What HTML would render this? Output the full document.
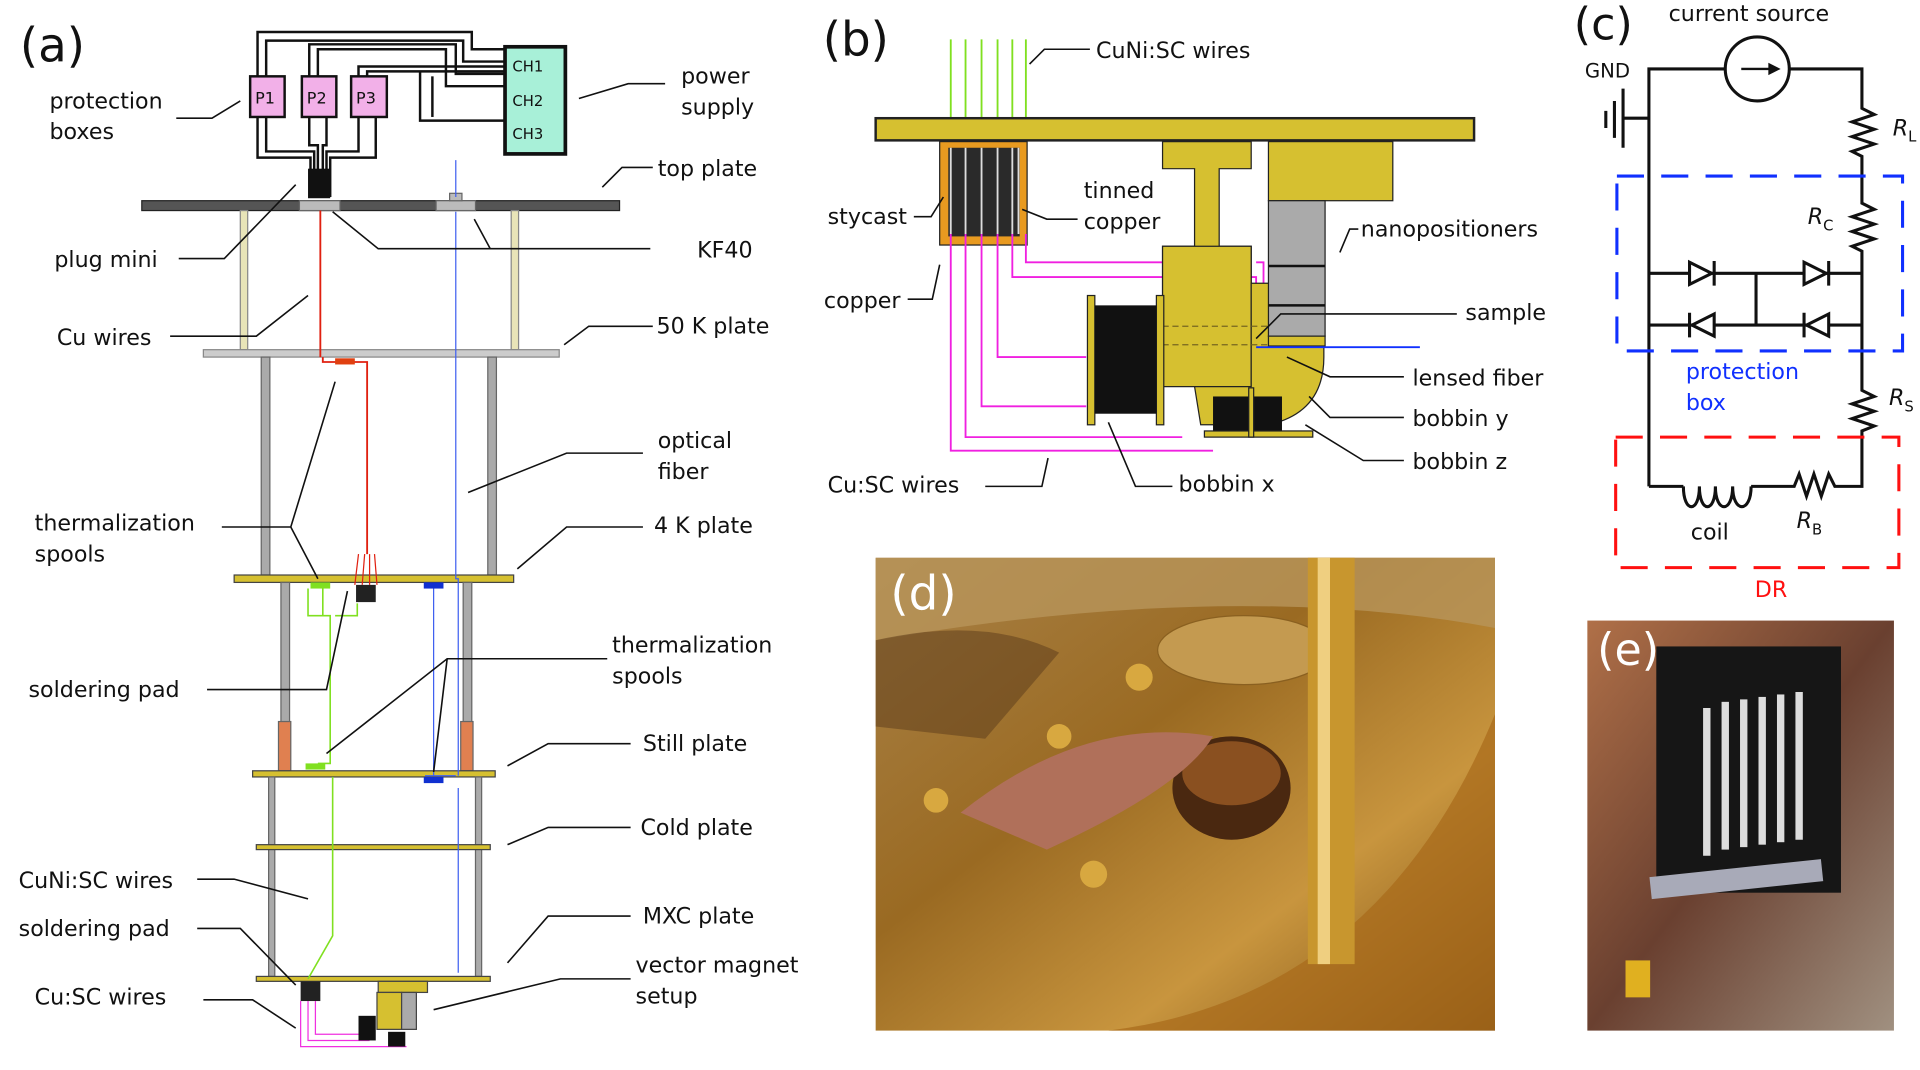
<!DOCTYPE html>
<html><head><meta charset="utf-8"><style>
html,body{margin:0;padding:0;background:#fff;}
svg{display:block;}
text{font-family:"DejaVu Sans","Liberation Sans",sans-serif;fill:#111;}
</style></head><body>
<svg width="1920" height="1070" viewBox="0 0 1559 869" xmlns="http://www.w3.org/2000/svg">
<defs>
<linearGradient id="gd" x1="0" y1="0" x2="1" y2="1">
<stop offset="0" stop-color="#a98248"/><stop offset="0.4" stop-color="#9a6a22"/><stop offset="0.7" stop-color="#c8953e"/><stop offset="1" stop-color="#7a4d14"/></linearGradient>
<linearGradient id="ge" x1="0" y1="0" x2="1" y2="1">
<stop offset="0" stop-color="#b07048"/><stop offset="0.5" stop-color="#6a4030"/><stop offset="1" stop-color="#a09080"/></linearGradient>
</defs>
<!-- ===== (a) ===== -->
<text x="16" y="50" font-size="38">(a)</text>
<g fill="none" stroke="#111" stroke-width="2">
<path d="M209 62 V26 H383 V40 H410"/><path d="M216 62 V33 H376 V50 H410"/>
<path d="M251 62 V36 H370 V60 H410"/><path d="M258 62 V40 H362 V70 H410"/>
<path d="M291 62 V54 H420"/><path d="M298 62 V58 H420"/>
<path d="M341 58 V98 H410"/><path d="M351 62 V95"/>
<path d="M209 95 V128 H252 V160"/><path d="M216 95 V123 H255 V160"/>
<path d="M251 95 V118 H258 V160"/><path d="M265 95 V118 H262 V160"/>
<path d="M291 95 V123 H265 V160"/><path d="M305 95 V128 H268 V160"/>
</g>
<rect x="410" y="38" width="49" height="87" fill="#a8f0d8" stroke="#111" stroke-width="3"/>
<text x="416" y="58" font-size="12">CH1</text><text x="416" y="86" font-size="12">CH2</text><text x="416" y="113" font-size="12">CH3</text>
<rect x="203" y="62" width="28" height="33" fill="#f2b0e8" stroke="#111" stroke-width="2"/>
<rect x="245" y="62" width="28" height="33" fill="#f2b0e8" stroke="#111" stroke-width="2"/>
<rect x="285" y="62" width="29" height="33" fill="#f2b0e8" stroke="#111" stroke-width="2"/>
<text x="207" y="84" font-size="13">P1</text><text x="249" y="84" font-size="13">P2</text><text x="289" y="84" font-size="13">P3</text>
<rect x="250" y="137" width="18" height="24" fill="#111"/>
<rect x="115" y="163" width="388" height="8" fill="#555" stroke="#222"/>
<rect x="243" y="163" width="33" height="8" fill="#bbb" stroke="#666"/>
<rect x="354" y="163" width="32" height="8" fill="#bbb" stroke="#666"/>
<rect x="365" y="157" width="10" height="6" fill="#bbb" stroke="#666"/>
<rect x="195" y="171" width="6" height="113" fill="#e8e4b8" stroke="#888"/>
<rect x="415" y="171" width="6" height="113" fill="#e8e4b8" stroke="#888"/>
<rect x="165" y="284" width="289" height="6" fill="#ccc" stroke="#888"/>
<rect x="212" y="290" width="7" height="177" fill="#aaa" stroke="#666"/>
<rect x="396" y="290" width="7" height="177" fill="#aaa" stroke="#666"/>
<rect x="190" y="467" width="227" height="6" fill="#d6c030" stroke="#444"/>
<rect x="228" y="473" width="7" height="153" fill="#aaa" stroke="#666"/>
<rect x="376" y="473" width="7" height="153" fill="#aaa" stroke="#666"/>
<rect x="226" y="586" width="10" height="40" fill="#e08050" stroke="#666"/>
<rect x="374" y="586" width="10" height="40" fill="#e08050" stroke="#666"/>
<rect x="205" y="626" width="197" height="5" fill="#d6c030" stroke="#444"/>
<rect x="218" y="631" width="5" height="162" fill="#aaa" stroke="#666"/>
<rect x="386" y="631" width="5" height="162" fill="#aaa" stroke="#666"/>
<rect x="208" y="686" width="190" height="4" fill="#d6c030" stroke="#444"/>
<rect x="208" y="793" width="190" height="4" fill="#d6c030" stroke="#444"/>
<!-- wires -->
<path d="M260 171 V290 M262 290 V294 H298 V450" stroke="#e02010" stroke-width="1.5" fill="none"/>
<rect x="272" y="291" width="16" height="5" fill="#e04010"/>
<path d="M291 450 L288 475 M296 450 L294 475 M300 450 L300 475 M304 450 L306 475" stroke="#e02010" stroke-width="1"/>
<rect x="289" y="475" width="16" height="14" fill="#222"/>
<path d="M370 130 V160 M370 172 V470 H372 V630" stroke="#4060f0" stroke-width="1" fill="none"/>
<path d="M352 478 V630 M345 630 H370 M372 640 V790" stroke="#4060f0" stroke-width="1" fill="none"/>
<rect x="344" y="473" width="16" height="5" fill="#1030d0"/>
<rect x="344" y="631" width="16" height="5" fill="#1030d0"/>
<path d="M250 478 V500 H268 V620 H258 M262 478 V500 M290 490 V500 H272 M270 631 V760 L250 795" stroke="#80e020" stroke-width="1.3" fill="none"/>
<rect x="252" y="473" width="16" height="5" fill="#80e020"/>
<rect x="248" y="620" width="16" height="5" fill="#80e020"/>
<rect x="244" y="797" width="16" height="16" fill="#222"/>
<path d="M244 813 V850 H330 M250 813 V845 H300 M256 813 V840 H295" stroke="#f030e0" stroke-width="1" fill="none"/>
<rect x="307" y="797" width="40" height="9" fill="#d6c030" stroke="#444"/>
<rect x="306" y="806" width="20" height="30" fill="#d6c030" stroke="#444"/>
<rect x="326" y="806" width="12" height="30" fill="#aaa" stroke="#444"/>
<rect x="291" y="825" width="14" height="20" fill="#111"/>
<rect x="315" y="838" width="14" height="12" fill="#111"/>
<!-- labels a -->
<g font-size="18">
<text x="40" y="88">protection</text><text x="40" y="113">boxes</text>
<text x="553" y="68">power</text><text x="553" y="93">supply</text>
<text x="534" y="143">top plate</text>
<text x="566" y="209">KF40</text>
<text x="44" y="217">plug mini</text>
<text x="46" y="280">Cu wires</text>
<text x="533" y="271">50 K plate</text>
<text x="534" y="364">optical</text><text x="534" y="389">fiber</text>
<text x="28" y="431">thermalization</text><text x="28" y="456">spools</text>
<text x="531" y="433">4 K plate</text>
<text x="497" y="530">thermalization</text><text x="497" y="555">spools</text>
<text x="23" y="566">soldering pad</text>
<text x="522" y="610">Still plate</text>
<text x="520" y="678">Cold plate</text>
<text x="15" y="721">CuNi:SC wires</text>
<text x="522" y="750">MXC plate</text>
<text x="15" y="760">soldering pad</text>
<text x="516" y="790">vector magnet</text><text x="516" y="815">setup</text>
<text x="28" y="816">Cu:SC wires</text>
</g>
<g stroke="#111" stroke-width="1.3" fill="none">
<path d="M143 96 H172 L195 82"/><path d="M540 68 H510 L470 80"/><path d="M530 136 H505 L489 152"/>
<path d="M528 202 H307 L270 172 M398 202 L385 178"/><path d="M145 210 H182 L240 150"/>
<path d="M138 273 H208 L250 240"/><path d="M530 265 H478 L458 280"/>
<path d="M522 368 H460 L380 400"/><path d="M180 428 H236 L272 310 M236 428 L258 470"/>
<path d="M522 428 H460 L420 462"/><path d="M493 535 H363 L265 612 M363 535 L352 627"/>
<path d="M168 560 H265 L282 480"/><path d="M512 604 H445 L412 622"/>
<path d="M512 672 H445 L412 686"/><path d="M160 714 H190 L250 730"/>
<path d="M512 744 H445 L412 782"/><path d="M160 754 H195 L240 800"/>
<path d="M512 795 H455 L352 820"/><path d="M165 812 H205 L240 835"/>
</g>
<!-- ===== (b) ===== -->
<text x="668" y="45" font-size="38">(b)</text>
<g stroke="#80e020" stroke-width="1.5"><path d="M772 32 V96 M784 32 V96 M797 32 V96 M810 32 V96 M822 32 V96 M833 32 V96"/></g>
<rect x="711" y="96" width="486" height="18" fill="#d6c030" stroke="#222" stroke-width="2"/>
<rect x="763" y="115" width="71" height="84" fill="#e89a20" stroke="#222"/>
<rect x="770" y="120" width="58" height="72" fill="#2a2a2a"/>
<g stroke-width="1.5"><path d="M772 120 V190 M784 120 V190 M797 120 V190 M810 120 V190 M822 120 V190 M827 120 V190" stroke="#ddd"/></g>
<g stroke="#f020e0" stroke-width="1.5" fill="none">
<path d="M772 190 V366 H985"/><path d="M784 190 V355 H960"/><path d="M797 190 V330 H882"/><path d="M810 190 V290 H882"/><path d="M822 190 V225 H945"/><path d="M833 190 V213 H945"/>
<path d="M945 225 H1020 V240 M1020 213 H1026 V240"/>
</g>
<path d="M944 115 H1016 V137 H990 V200 H1016 V290 H944 V200 H970 V137 H944 Z" fill="#d6c030" stroke="#222"/>
<rect x="944" y="200" width="72" height="114" fill="#d6c030" stroke="#222"/>
<path d="M1016 230 H1075 V290 Q1075 335 1030 345 H975 L970 314 H1016 Z" fill="#d6c030" stroke="#222"/>
<rect x="1030" y="115" width="101" height="48" fill="#d6c030" stroke="#222"/>
<rect x="1030" y="163" width="46" height="110" fill="#aaa" stroke="#222"/>
<path d="M1030 216 H1076 M1030 248 H1076" stroke="#111" stroke-width="2"/>
<rect x="1030" y="273" width="46" height="8" fill="#d6c030" stroke="#222"/>
<path d="M1020 282 H1153" stroke="#1030ff" stroke-width="1.5"/>
<path d="M944 265 H1030 M944 280 H1030" stroke="#776620" stroke-dasharray="5 3"/>
<rect x="883" y="240" width="6" height="105" fill="#d6c030" stroke="#222"/>
<rect x="939" y="240" width="6" height="105" fill="#d6c030" stroke="#222"/>
<rect x="889" y="248" width="50" height="88" fill="#111"/>
<rect x="985" y="322" width="56" height="28" fill="#111"/>
<rect x="978" y="350" width="88" height="5" fill="#d6c030" stroke="#222"/>
<rect x="1014" y="315" width="4" height="40" fill="#d6c030" stroke="#222"/>
<g font-size="18">
<text x="890" y="47">CuNi:SC wires</text>
<text x="880" y="161">tinned</text><text x="880" y="186">copper</text>
<text x="672" y="182">stycast</text>
<text x="1105" y="192">nanopositioners</text>
<text x="669" y="250">copper</text>
<text x="1190" y="260">sample</text>
<text x="1147" y="313">lensed fiber</text>
<text x="1147" y="346">bobbin y</text>
<text x="1147" y="381">bobbin z</text>
<text x="672" y="400">Cu:SC wires</text>
<text x="957" y="399">bobbin x</text>
</g>
<g stroke="#111" stroke-width="1.3" fill="none">
<path d="M885 40 H848 L836 52"/><path d="M742 176 H756 L766 160"/><path d="M875 178 H850 L830 170"/>
<path d="M1103 186 H1096 L1088 205"/><path d="M737 243 H757 L763 215"/><path d="M1183 255 H1040 L1020 275"/>
<path d="M1140 306 H1080 L1045 290"/><path d="M1140 339 H1080 L1063 322"/><path d="M1140 374 H1107 L1060 345"/>
<path d="M800 395 H846 L851 372"/><path d="M952 395 H922 L900 343"/>
</g>
<!-- ===== (c) ===== -->
<text x="1278" y="32" font-size="36">(c)</text>
<text x="1355" y="17" font-size="18">current source</text>
<text x="1287" y="63" font-size="16">GND</text>
<g stroke="#111" stroke-width="2.5" fill="none">
<path d="M1339 395 V56 H1401 M1453 56 H1512 V88 l10 5 -18 6 18 6 -18 6 18 6 -18 6 8 4 V165 l10 5 -18 6 18 6 -18 6 18 6 -18 6 8 4 V317 l10 5 -18 6 18 6 -18 6 18 6 -10 4 V395 H1490 l-5 -10 -6 18 -6 -18 -6 18 -6 -18 -4 10 H1422"/>
<circle cx="1427" cy="56" r="26"/>
<path d="M1339 96 H1318 M1318 72 V120 M1311 82 V112 M1304 90 V104"/>
<path d="M1339 222 H1512 M1339 264 H1512 M1426 222 V264"/>
<path d="M1367 395 H1339 M1367 395 c0 22 13 22 13 0 c0 22 13 22 13 0 c0 22 14 22 14 0 c0 22 15 22 15 0"/>
</g>
<g fill="#fff" stroke="#111" stroke-width="2.5">
<path d="M1372 213 V231 L1390 222 Z M1392 212 V232"/><path d="M1465 213 V231 L1483 222 Z M1485 212 V232"/>
<path d="M1392 255 V273 L1374 264 Z M1372 254 V274"/><path d="M1485 255 V273 L1467 264 Z M1465 254 V274"/>
</g>
<path d="M1414 56 H1440" stroke="#111" stroke-width="2"/>
<path d="M1446 56 L1436 51 L1436 61 Z" fill="#111"/>
<rect x="1313" y="143" width="232" height="142" fill="none" stroke="#1030ff" stroke-width="2.5" stroke-dasharray="22 14"/>
<rect x="1312" y="355" width="230" height="106" fill="none" stroke="#ff1010" stroke-width="2.5" stroke-dasharray="22 14"/>
<g font-size="18">
<text x="1537" y="110" font-style="italic">R<tspan font-size="12" dy="5" font-style="normal">L</tspan></text>
<text x="1468" y="182" font-style="italic">R<tspan font-size="12" dy="5" font-style="normal">C</tspan></text>
<text x="1534" y="329" font-style="italic">R<tspan font-size="12" dy="5" font-style="normal">S</tspan></text>
<text x="1459" y="429" font-style="italic">R<tspan font-size="12" dy="5" font-style="normal">B</tspan></text>
<text x="1369" y="308" style="fill:#1030ff">protection</text>
<text x="1369" y="333" style="fill:#1030ff">box</text>
<text x="1373" y="438">coil</text>
<text x="1425" y="485" style="fill:#ff1010">DR</text>
</g>
<!-- ===== (d) photo ===== -->
<rect x="711" y="453" width="503" height="384" fill="url(#gd)"/>
<path d="M711 453 H1214 V510 Q1000 470 711 520 Z" fill="#b8955a" opacity="0.8"/>
<path d="M711 520 Q800 500 860 530 L800 600 L711 590 Z" fill="#5a3a1a" opacity="0.5"/>
<ellipse cx="1010" cy="528" rx="70" ry="28" fill="#c49a50" stroke="#8a6020"/>
<path d="M1214 580 Q1120 810 900 837 H1214 Z" fill="#a86a1a" opacity="0.7"/>
<rect x="1062" y="453" width="38" height="330" fill="#c8962e"/>
<rect x="1070" y="453" width="10" height="330" fill="#efcf80"/>
<ellipse cx="1000" cy="640" rx="48" ry="42" fill="#4a2810"/>
<ellipse cx="1000" cy="628" rx="40" ry="26" fill="#8a5020"/>
<path d="M780 660 Q880 580 985 598 Q960 640 850 690 Z" fill="#b0705a"/>
<circle cx="760" cy="650" r="10" fill="#d8a840"/><circle cx="860" cy="598" r="10" fill="#d8a840"/><circle cx="888" cy="710" r="11" fill="#d8a840"/><circle cx="925" cy="550" r="11" fill="#d8a840"/>
<text x="723" y="495" font-size="38" style="fill:#fff">(d)</text>
<!-- ===== (e) photo ===== -->
<rect x="1289" y="504" width="249" height="333" fill="url(#ge)"/>
<rect x="1345" y="525" width="150" height="200" fill="#161616"/>
<rect x="1340" y="705" width="140" height="18" fill="#a8aab8" transform="rotate(-6 1410 714)"/>
<g fill="#ddd"><rect x="1383" y="575" width="6" height="120"/><rect x="1398" y="570" width="6" height="120"/><rect x="1413" y="568" width="6" height="120"/><rect x="1428" y="566" width="6" height="120"/><rect x="1443" y="564" width="6" height="120"/><rect x="1458" y="562" width="6" height="120"/></g>
<rect x="1320" y="780" width="20" height="30" fill="#e0b020"/>
<text x="1297" y="540" font-size="36" style="fill:#fff">(e)</text>
</svg>
</body></html>
